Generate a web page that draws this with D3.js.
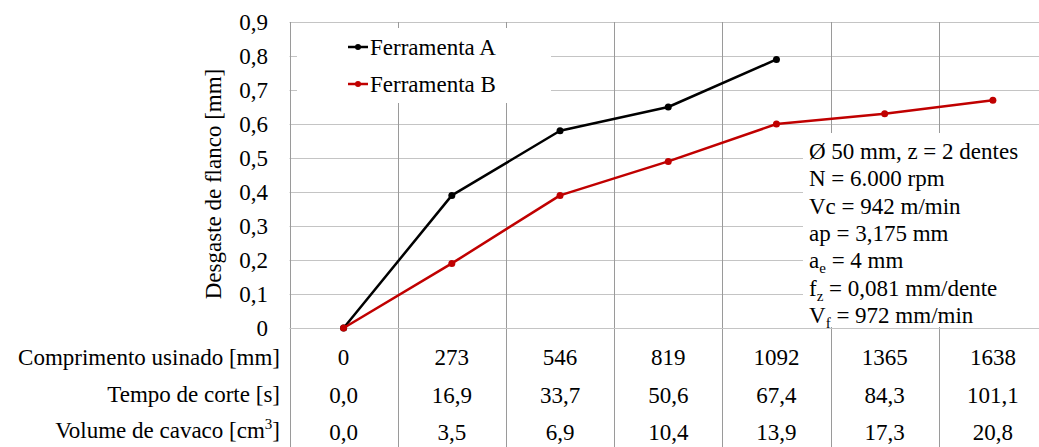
<!DOCTYPE html>
<html>
<head>
<meta charset="utf-8">
<script src="https://cdn.jsdelivr.net/npm/d3@7"></script>
<style>
  html, body { margin: 0; padding: 0; background: #fff; overflow: hidden; }
  svg { display: block; }
  svg text { font-family: 'Liberation Serif', 'Times New Roman', Times, 'DejaVu Serif', serif; font-size: 23px; fill: #000; }
</style>
</head>
<body>
<svg width="1039" height="447"></svg>
<script>
// data
const comprimento = [0, 273, 546, 819, 1092, 1365, 1638];
const tempo = [0.0, 16.9, 33.7, 50.6, 67.4, 84.3, 101.1];
const volume = [0.0, 3.5, 6.9, 10.4, 13.9, 17.3, 20.8];
const ferramentaA = [0, 0.39, 0.58, 0.65, 0.79];
const ferramentaB = [0, 0.19, 0.39, 0.49, 0.60, 0.63, 0.67];
const yTicks = [0, 0.1, 0.2, 0.3, 0.4, 0.5, 0.6, 0.7, 0.8, 0.9];
const seriesNames = ["Ferramenta A", "Ferramenta B"];
const seriesColors = ["#000000", "#c00000"];

const serif = "'Liberation Serif', 'Times New Roman', Times, 'DejaVu Serif', serif";

let svg = d3.select("svg");
let g = svg.append("g")
    .attr("font-family", serif)
    .attr("font-size", 23);

let x = d3.scaleBand().domain(comprimento).range([289.5, 1047]);
let y = d3.scaleLinear().domain([0, 0.9]).range([328, 22]);

let comma = (v) => String(v).replace(".", ",");
let fmt1 = (v) => comma(d3.format(".1f")(v));

// horizontal grid
g.selectAll(".hgrid")
    .data(yTicks.slice(1))
    .enter().append("line")
    .attr("x1", x.range()[0]).attr("x2", 1039)
    .attr("y1", d => Math.round(y(d)) + 0.5).attr("y2", d => Math.round(y(d)) + 0.5)
    .attr("stroke", "#c4c4c4").attr("stroke-width", 1);

// vertical lines at band edges, running down through the table
let edges = comprimento.map(c => x(c));
g.selectAll(".vgrid")
    .data(edges)
    .enter().append("line")
    .attr("x1", d => Math.round(d) + 0.5).attr("x2", d => Math.round(d) + 0.5)
    .attr("y1", y(0.9)).attr("y2", 447)
    .attr("stroke", "#9a9a9a").attr("stroke-width", 1);

// white boxes behind legend and note
g.append("rect").attr("x", 297).attr("y", 28).attr("width", 254).attr("height", 75).attr("fill", "#fff");
g.append("rect").attr("x", 803).attr("y", 133).attr("width", 240).attr("height", 194).attr("fill", "#fff");

// axis line
g.append("line")
    .attr("x1", x.range()[0]).attr("x2", 1039)
    .attr("y1", y(0) + 0.5).attr("y2", y(0) + 0.5)
    .attr("stroke", "#c4c4c4").attr("stroke-width", 1);

// y tick labels
g.selectAll(".ytick")
    .data(yTicks)
    .enter().append("text")
    .attr("x", 268)
    .attr("y", d => y(d))
    .attr("dy", "0.35em")
    .attr("text-anchor", "end")
    .text(d => d === 0 ? "0" : comma(d3.format(".1f")(d)));

// y title
g.append("text")
    .attr("transform", "translate(221,184) rotate(-90)")
    .attr("text-anchor", "middle")
    .text("Desgaste de flanco [mm]");

// series
let cx = (i) => x(comprimento[i]) + x.bandwidth() / 2;
[ferramentaA, ferramentaB].forEach((vals, k) => {
    let line = d3.line().x((d, i) => cx(i)).y(d => y(d));
    g.append("path")
        .attr("d", line(vals))
        .attr("fill", "none")
        .attr("stroke", seriesColors[k])
        .attr("stroke-width", 2.5)
        .attr("stroke-linejoin", "round");
    g.selectAll(".pt" + k)
        .data(vals)
        .enter().append("circle")
        .attr("cx", (d, i) => cx(i))
        .attr("cy", d => y(d))
        .attr("r", 3.5)
        .attr("fill", seriesColors[k]);
});

// legend
let legend = g.selectAll(".legend")
    .data(seriesNames)
    .enter().append("g")
    .attr("transform", (d, i) => "translate(348," + (47 + i * 37) + ")");
legend.append("line")
    .attr("x1", 0).attr("x2", 20).attr("y1", 0).attr("y2", 0)
    .attr("stroke", (d, i) => seriesColors[i]).attr("stroke-width", 2.5);
legend.append("circle")
    .attr("cx", 10).attr("cy", 0).attr("r", 3)
    .attr("fill", (d, i) => seriesColors[i]);
legend.append("text")
    .attr("x", 22).attr("dy", "0.33em")
    .text(d => d);

// cutting parameters note
let note = g.append("text").attr("x", 809).attr("y", 159);
let noteLines = [
    [["Ø 50 mm, z = 2 dentes"]],
    [["N = 6.000 rpm"]],
    [["Vc = 942 m/min"]],
    [["ap = 3,175 mm"]],
    [["a"], ["e", "sub"], [" = 4 mm"]],
    [["f"], ["z", "sub"], [" = 0,081 mm/dente"]],
    [["V"], ["f", "sub"], [" = 972 mm/min"]]
];
noteLines.forEach((parts, li) => {
    parts.forEach((p, pi) => {
        let t = note.append("tspan").text(p[0]);
        if (pi === 0) t.attr("x", 809).attr("y", 159 + li * 27.3);
        if (p[1] === "sub") {
            t.attr("dy", 5).attr("font-size", 15);
        } else if (pi > 0 && parts[pi - 1][1] === "sub") {
            t.attr("dy", -5);
        }
    });
});

// data table under the chart
let rowLabels = ["Comprimento usinado [mm]", "Tempo de corte [s]", "Volume de cavaco [cm"];
let labelY = [365, 401.5, 438];
let valueY = [365, 403, 440];
let rows = [comprimento.map(String), tempo.map(fmt1), volume.map(fmt1)];

rowLabels.forEach((lbl, r) => {
    let t = g.append("text")
        .attr("x", 280).attr("y", labelY[r])
        .attr("text-anchor", "end");
    t.append("tspan").text(lbl);
    if (r === 2) {
        t.append("tspan").text("3").attr("dy", -9).attr("font-size", 15);
        t.append("tspan").text("]").attr("dy", 9);
    }
    g.selectAll(".row" + r)
        .data(rows[r])
        .enter().append("text")
        .attr("x", (d, i) => cx(i))
        .attr("y", valueY[r])
        .attr("text-anchor", "middle")
        .text(d => d);
});
</script>
</body>
</html>
